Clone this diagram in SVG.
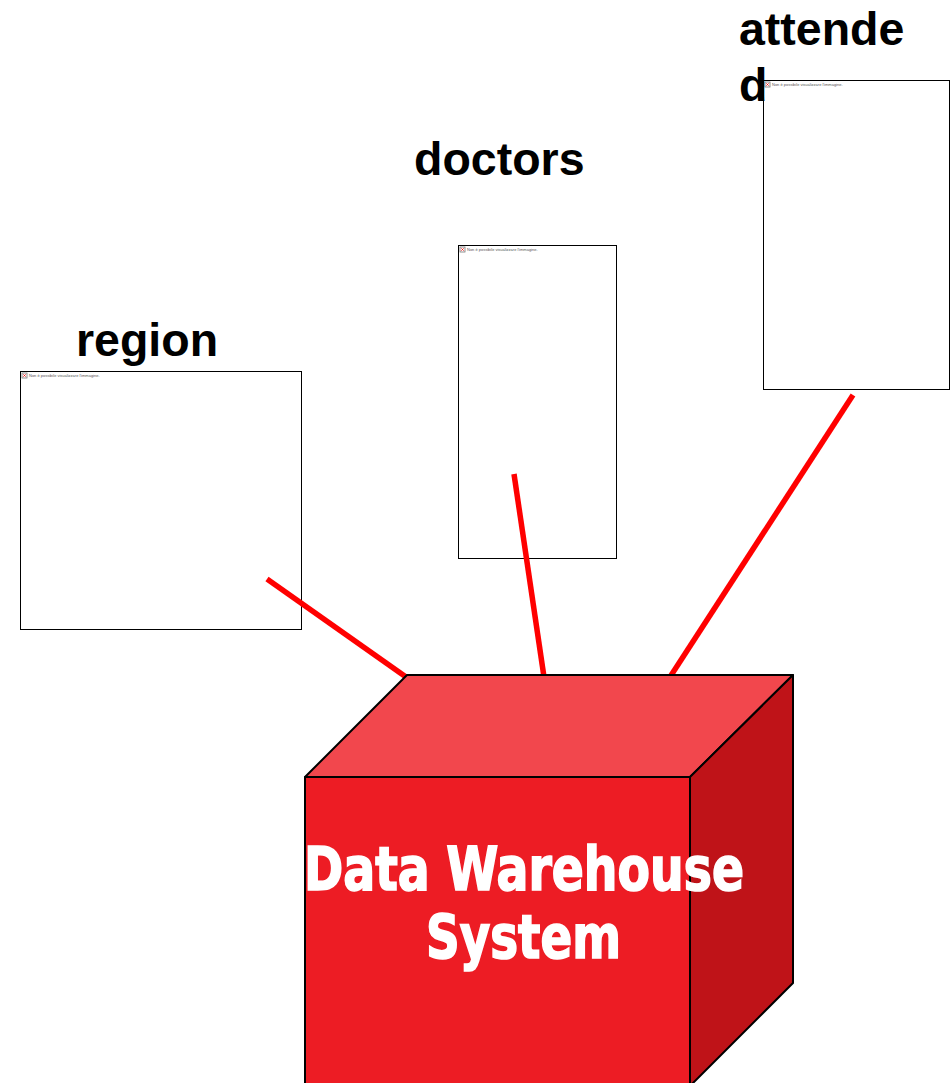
<svg xmlns="http://www.w3.org/2000/svg" width="951" height="1083" viewBox="0 0 951 1083">
  <style>
    .label { font-family: "Liberation Sans", Arial, sans-serif; font-weight: bold; font-size: 46.5px; fill: #000; }
    .frame { fill: #fff; stroke: #000; stroke-width: 1; }
    .broken { font-family: "Liberation Sans", Arial, sans-serif; font-size: 4px; fill: #555; }
    .icon { fill: #fff; stroke: #777; stroke-width: 0.8; }
    .link { stroke: #ff0000; stroke-width: 5.5; fill: none; }
    .edge { stroke: #000; stroke-width: 2; stroke-linejoin: round; }
    .title { font-family: Impact, "DejaVu Sans Condensed", "Liberation Sans Narrow", sans-serif; font-weight: bold; font-size: 60px; fill: #fff; stroke: #fff; stroke-width: 1.6; }
  </style>

  <!-- source: region -->
  <g id="region">
    <rect class="frame" x="20.5" y="371.5" width="281" height="258"/>
    <rect class="icon" x="22" y="373" width="5" height="5"/>
    <path d="M23.3 374.3 L25.7 376.7 M25.7 374.3 L23.3 376.7" stroke="#e00" stroke-width="0.8"/>
    <text class="broken" x="29" y="377">Non è possibile visualizzare l'immagine.</text>
    <text class="label" x="76" y="356">region</text>
  </g>

  <!-- source: doctors -->
  <g id="doctors">
    <rect class="frame" x="458.5" y="245.5" width="158" height="313"/>
    <rect class="icon" x="460" y="247" width="5" height="5"/>
    <path d="M461.3 248.3 L463.7 250.7 M463.7 248.3 L461.3 250.7" stroke="#e00" stroke-width="0.8"/>
    <text class="broken" x="467" y="251">Non è possibile visualizzare l'immagine.</text>
    <text class="label" x="414" y="175">doctors</text>
  </g>

  <!-- source: attended (label wraps and sits over the frame edge) -->
  <g id="attended">
    <rect class="frame" x="763.5" y="80.5" width="186" height="309"/>
    <rect class="icon" x="765" y="82" width="5" height="5"/>
    <path d="M766.3 83.3 L768.7 85.7 M768.7 83.3 L766.3 85.7" stroke="#e00" stroke-width="0.8"/>
    <text class="broken" x="772" y="86">Non è possibile visualizzare l'immagine.</text>
    <text class="label" x="739" y="45">attende</text>
    <text class="label" x="739" y="101">d</text>
  </g>

  <!-- connectors from each source to the warehouse, drawn over the source frames -->
  <g id="connectors">
    <line class="link" x1="267" y1="579" x2="406" y2="677"/>
    <line class="link" x1="514" y1="474" x2="544" y2="677"/>
    <line class="link" x1="853" y1="395" x2="670" y2="677"/>
  </g>

  <!-- warehouse cube -->
  <g id="warehouse">
    <polygon class="edge" fill="#f2474d" points="305,777 407,675 793,675 690,777"/>
    <polygon class="edge" fill="#bf1318" points="690,777 793,675 793,983 690,1086"/>
    <polygon class="edge" fill="#ed1c24" points="305,777 690,777 690,1086 305,1086"/>
    <text class="title" x="304" y="890" textLength="440" lengthAdjust="spacingAndGlyphs">Data Warehouse</text>
    <text class="title" x="426" y="958" textLength="195" lengthAdjust="spacingAndGlyphs">System</text>
  </g>
</svg>
